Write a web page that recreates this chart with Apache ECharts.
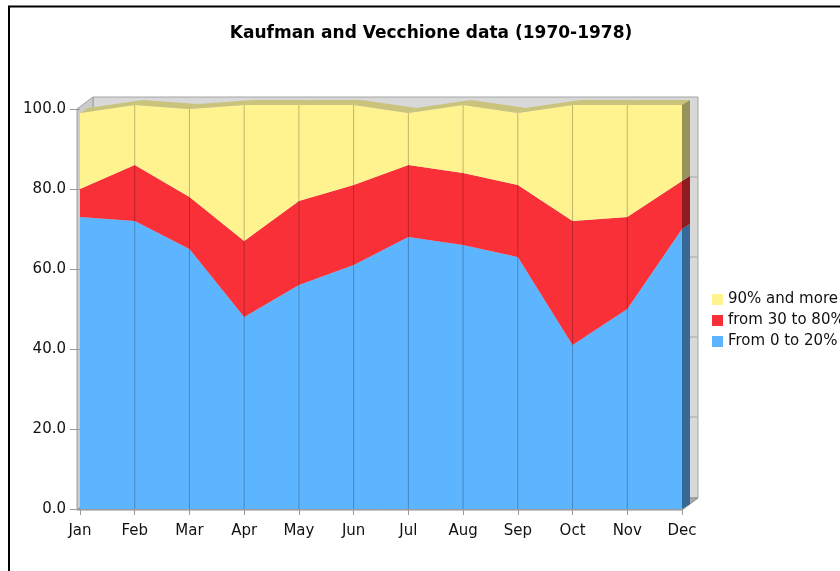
<!DOCTYPE html>
<html>
<head>
<meta charset="utf-8">
<style>
  html, body { margin: 0; padding: 0; background: #fff; }
  #chart { width: 840px; height: 571px; }
</style>
<script src="https://cdn.jsdelivr.net/npm/echarts@6/dist/echarts.min.js"></script>
</head>
<body>
<div id="chart"></div>
<script>
// data
const months = ['Jan', 'Feb', 'Mar', 'Apr', 'May', 'Jun', 'Jul', 'Aug', 'Sep', 'Oct', 'Nov', 'Dec']
const low = [73, 72, 65, 48, 56, 61, 68, 66, 63, 41, 50, 70]      // From 0 to 20%
const mid = [7, 14, 13, 19, 21, 20, 18, 18, 18, 31, 23, 12]       // from 30 to 80%
const high = [19, 15, 22, 34, 24, 20, 13, 17, 18, 29, 28, 19]     // 90% and more
const yTicks = [0, 20, 40, 60, 80, 100]

const names = ['From 0 to 20%', 'from 30 to 80%', '90% and more']
const fills = ['#5eb5ff', '#f93037', '#fff390']
const sides = ['#356a97', '#8e1b1f', '#979259']
const topFace = '#c9c37c'

const wallOff = [16, -12] // depth of the walls
const areaOff = [8, -5]   // depth of the areas

const layers = [low, mid, high]
const totals = months.map((_, i) => low[i] + mid[i] + high[i])

const font = 'DejaVu Sans, Verdana, sans-serif'
const chart = echarts.init(document.getElementById('chart'))

function add(p, o) {
  return [p[0] + o[0], p[1] + o[1]]
}

// back wall, left wall and floor
function renderWall(params, api) {
  const last = months.length - 1
  const A = add(api.coord([0, 0]), [-3, 1])
  const B = add(api.coord([0, 100]), [-3, 0])
  const C = api.coord([last, 100])
  const D = add(api.coord([last, 0]), [0, 1])
  const C2 = [D[0], C[1]]
  const children = [
    {
      type: 'polygon',
      shape: { points: [add(A, wallOff), add(B, wallOff), add(C2, wallOff), add(D, wallOff)] },
      style: { fill: '#d8d8d8', stroke: '#a4a4a4', lineWidth: 1 },
    },
  ]
  yTicks.slice(1, -1).forEach((v) => {
    const p = api.coord([0, v])
    const q = api.coord([last, v])
    children.push({
      type: 'line',
      shape: { x1: A[0] + wallOff[0], y1: p[1] + wallOff[1], x2: D[0] + wallOff[0], y2: q[1] + wallOff[1] },
      style: { stroke: '#a8a8a8', lineWidth: 1 },
    })
  })
  children.push({
    type: 'polygon',
    shape: { points: [A, B, add(B, wallOff), add(A, wallOff)] },
    style: { fill: '#cccccc', stroke: '#9c9c9c', lineWidth: 1 },
  })
  children.push({
    type: 'polygon',
    shape: { points: [A, D, add(D, wallOff), add(A, wallOff)] },
    style: { fill: '#a9a9a9', stroke: '#8e8e8e', lineWidth: 1 },
  })
  return { type: 'group', children }
}

// gridlines over the front face, top face and right side faces
function renderDepth(params, api) {
  const i = api.value(0)
  const last = months.length - 1
  const children = []
  if (i > 0 && i < last) {
    const b = api.coord([i, 0])
    const t = api.coord([i, totals[i]])
    children.push({
      type: 'line',
      shape: { x1: b[0], y1: b[1], x2: t[0], y2: t[1] },
      style: { stroke: 'rgba(0,0,0,0.25)', lineWidth: 1 },
    })
  }
  if (i < last) {
    const p1 = api.coord([i, totals[i]])
    const p2 = api.coord([i + 1, totals[i + 1]])
    children.push({
      type: 'polygon',
      shape: { points: [p1, p2, add(p2, areaOff), add(p1, areaOff)] },
      style: { fill: topFace },
    })
  } else {
    let base = 0
    layers.forEach((arr, k) => {
      const lo = api.coord([i, base])
      const hi = api.coord([i, base + arr[i]])
      base += arr[i]
      children.push({
        type: 'polygon',
        shape: { points: [lo, hi, add(hi, areaOff), add(lo, areaOff)] },
        style: { fill: sides[k] },
      })
    })
  }
  return { type: 'group', children }
}

const areaSeries = layers.map((arr, k) => ({
  name: names[k],
  type: 'line',
  stack: 'total',
  data: arr,
  showSymbol: false,
  symbol: 'none',
  clip: false,
  z: 2,
  lineStyle: { width: 0 },
  itemStyle: { color: fills[k] },
  areaStyle: { color: fills[k], opacity: 1 },
}))

chart.setOption({
  animation: false,
  backgroundColor: '#ffffff',
  title: {
    text: 'Kaufman and Vecchione data (1970-1978)',
    left: 431,
    textAlign: 'center',
    top: 25,
    padding: 0,
    textStyle: { fontFamily: font, fontSize: 17, fontWeight: 'bold', color: '#000' },
  },
  legend: {
    data: ['90% and more', 'from 30 to 80%', 'From 0 to 20%'],
    orient: 'vertical',
    left: 712,
    top: 292,
    padding: 0,
    icon: 'rect',
    itemWidth: 11,
    itemHeight: 11,
    itemGap: 6,
    itemStyle: { borderWidth: 0 },
    textStyle: { fontFamily: font, fontSize: 15, color: '#111' },
  },
  grid: {
    left: 80,
    top: 109,
    width: 602,
    height: 400,
  },
  xAxis: {
    type: 'category',
    data: months,
    boundaryGap: false,
    axisLine: { show: false },
    axisTick: { show: true, length: 6, lineStyle: { color: '#999' } },
    splitLine: { show: false },
    axisLabel: { margin: 15, fontFamily: font, fontSize: 15, color: '#111' },
  },
  yAxis: {
    type: 'value',
    min: 0,
    max: 100,
    interval: 20,
    axisLine: { show: false },
    axisTick: { show: true, length: 10, lineStyle: { color: '#999' } },
    splitLine: { show: false },
    axisLabel: {
      margin: 14,
      fontFamily: font,
      fontSize: 15,
      color: '#111',
      formatter: (v) => v.toFixed(1),
    },
  },
  graphic: [
    {
      type: 'rect',
      silent: true,
      shape: { x: 9, y: 6.5, width: 1200, height: 1200 },
      style: { fill: 'none', stroke: '#000', lineWidth: 2 },
      z: 100,
    },
  ],
  series: [
    {
      name: 'wall',
      type: 'custom',
      z: 0,
      silent: true,
      data: [[0, 0]],
      renderItem: renderWall,
    },
    ...areaSeries,
    {
      name: 'depth',
      type: 'custom',
      z: 3,
      silent: true,
      data: months.map((_, i) => [i, totals[i]]),
      renderItem: renderDepth,
    },
  ],
})
</script>
</body>
</html>
